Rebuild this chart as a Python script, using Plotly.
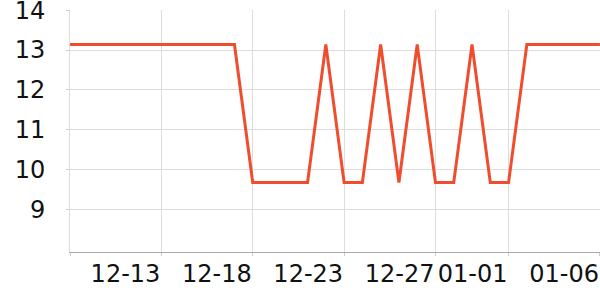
import plotly.graph_objects as go
import pandas as pd

dates = pd.date_range("2023-12-08", "2024-01-06", freq="D").strftime("%Y-%m-%d").tolist()
values = [13.14]*10 + [9.68]*4 + [13.14, 9.68, 9.68, 13.14, 9.68, 13.14, 9.68, 9.68, 13.14, 9.68, 9.68] + [13.14]*5

tick_dates = ["2023-12-08", "2023-12-13", "2023-12-18", "2023-12-23", "2023-12-28", "2024-01-01", "2024-01-06"]
tick_labels = ["", "12-13", "12-18", "12-23", "12-27", "01-01", "01-06"]
y_ticks = [9, 10, 11, 12, 13, 14]

fig = go.Figure(go.Scatter(x=dates, y=values, mode="lines",
                           line=dict(color="#ef4d2e", width=3)))

font = dict(family="DejaVu Sans", size=24, color="#111")
fig.update_layout(
    width=600, height=300,
    margin=dict(l=70, r=0, t=10, b=48),
    plot_bgcolor="white", paper_bgcolor="white",
    showlegend=False,
    xaxis=dict(range=[dates[0], "2024-01-06 00:05"], tickvals=tick_dates, ticktext=tick_labels,
               ticklabelposition="outside left", tickfont=font, tickangle=0,
               ticklabeloverflow="allow", automargin=False,
               showgrid=True, gridcolor="#dddddd", gridwidth=1,
               showline=True, linecolor="#aaaaaa", linewidth=1,
               ticks="outside", ticklen=3, tickcolor="#cccccc", zeroline=False),
    yaxis=dict(range=[7.94, 14.003], tickvals=y_ticks, tickfont=font,
               ticklabeloverflow="allow", automargin=False,
               showgrid=True, gridcolor="#dddddd", gridwidth=1,
               showline=True, linecolor="#dddddd", linewidth=1,
               ticks="outside", ticklen=3, tickcolor="#cccccc", zeroline=False,
               ticklabelstandoff=16),
)
fig.write_html("out.html")
